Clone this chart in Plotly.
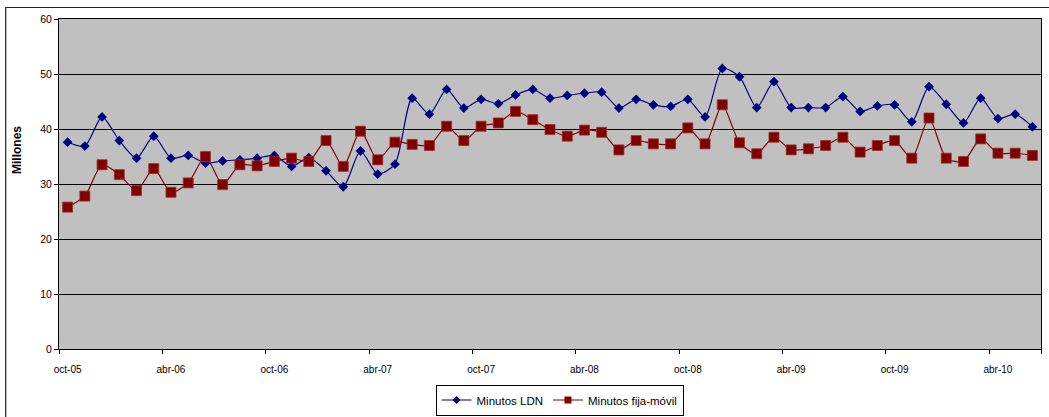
import plotly.graph_objects as go

months = ["oct-05","nov-05","dic-05","ene-06","feb-06","mar-06","abr-06","may-06","jun-06","jul-06","ago-06","sep-06",
          "oct-06","nov-06","dic-06","ene-07","feb-07","mar-07","abr-07","may-07","jun-07","jul-07","ago-07","sep-07",
          "oct-07","nov-07","dic-07","ene-08","feb-08","mar-08","abr-08","may-08","jun-08","jul-08","ago-08","sep-08",
          "oct-08","nov-08","dic-08","ene-09","feb-09","mar-09","abr-09","may-09","jun-09","jul-09","ago-09","sep-09",
          "oct-09","nov-09","dic-09","ene-10","feb-10","mar-10","abr-10","may-10","jun-10"]

ldn = [37.6, 36.9, 42.2, 37.9, 34.7, 38.7, 34.7, 35.2, 33.8, 34.2, 34.4, 34.7,
       35.2, 33.2, 34.8, 32.4, 29.5, 36.0, 31.8, 33.6, 45.6, 42.7, 47.2, 43.8,
       45.4, 44.6, 46.2, 47.2, 45.6, 46.1, 46.5, 46.7, 43.8, 45.4, 44.4, 44.1,
       45.4, 42.2, 51.0, 49.5, 43.9, 48.6, 43.9, 43.9, 43.9, 45.9, 43.2, 44.2,
       44.4, 41.3, 47.7, 44.5, 41.1, 45.6, 41.9, 42.7, 40.4]

fija_movil = [25.8, 27.8, 33.5, 31.7, 28.8, 32.8, 28.5, 30.2, 35.0, 29.9, 33.5, 33.3,
              34.1, 34.7, 34.1, 37.9, 33.2, 39.6, 34.4, 37.6, 37.2, 37.0, 40.5, 37.9,
              40.5, 41.1, 43.2, 41.7, 39.9, 38.7, 39.8, 39.4, 36.2, 37.9, 37.3, 37.3,
              40.2, 37.3, 44.4, 37.5, 35.5, 38.5, 36.2, 36.4, 37.0, 38.5, 35.8, 37.0,
              37.9, 34.7, 42.0, 34.7, 34.1, 38.2, 35.6, 35.6, 35.2]

y_ticks = [0, 10, 20, 30, 40, 50, 60]
label_step = 6

idx = list(range(len(months)))
label_pos = idx[::label_step]
label_txt = months[::label_step]
boundary_pos = [p - 0.5 for p in label_pos] + [len(months) - 0.5]

BLUE = "#000080"
RED = "#800000"
FONT = "Liberation Sans, Arial, sans-serif"

fig = go.Figure()
fig.add_trace(go.Scatter(
    x=idx, y=ldn, mode="lines+markers", name="Minutos LDN", showlegend=False,
    line=dict(color=BLUE, width=1.2, shape="spline", smoothing=0.7),
    marker=dict(symbol="diamond", size=7.5, color=BLUE)))
fig.add_trace(go.Scatter(
    x=idx, y=fija_movil, mode="lines+markers", name="Minutos fija-móvil", showlegend=False,
    line=dict(color=RED, width=1.2, shape="spline", smoothing=0.7),
    marker=dict(symbol="square", size=10, color=RED, line=dict(color="#9a3030", width=0.8))))
# legend entries
fig.add_trace(go.Scatter(
    x=[None], y=[None], mode="lines+markers", name="Minutos LDN",
    line=dict(color=BLUE, width=1.2), marker=dict(symbol="diamond", size=6, color=BLUE)))
fig.add_trace(go.Scatter(
    x=[None], y=[None], mode="lines+markers", name="Minutos fija-móvil",
    line=dict(color=RED, width=1.2), marker=dict(symbol="square", size=7, color=RED)))

fig.update_layout(
    width=1049, height=417,
    margin=dict(l=59, r=8, t=19, b=68),
    paper_bgcolor="white", plot_bgcolor="#C0C0C0",
    font=dict(family=FONT, size=10, color="black"),
    showlegend=True,
    legend=dict(orientation="h", x=0.5097, y=(417 - 400) / 417, xanchor="center", yanchor="middle",
                xref="paper", yref="container",
                bgcolor="white", bordercolor="black", borderwidth=1,
                font=dict(family=FONT, size=11.5, color="black"),
                itemwidth=30, tracegroupgap=0),
    xaxis=dict(
        range=[-0.5, len(months) - 0.5], tickmode="array", tickvals=label_pos, ticktext=label_txt,
        ticks="", showgrid=False, zeroline=False, showline=True, linecolor="black", linewidth=1,
        mirror=True, ticklabelstandoff=11, tickfont=dict(size=10),
        minor=dict(tickmode="array", tickvals=boundary_pos, ticks="outside", ticklen=4,
                   tickcolor="black", tickwidth=1, showgrid=False)),
    yaxis=dict(
        range=[0, 60], tickmode="array", tickvals=y_ticks, ticks="outside", ticklen=4,
        tickcolor="black", showgrid=True, gridcolor="black", gridwidth=1, zeroline=False,
        showline=True, linecolor="black", linewidth=1, mirror=True, tickfont=dict(size=10.5)),
    annotations=[dict(text="<b>Millones</b>", xref="paper", yref="paper",
                      x=(17 - 59) / 982, y=(349 - 150) / 330, textangle=-90,
                      showarrow=False, font=dict(family=FONT, size=12, color="black"),
                      xanchor="center", yanchor="middle")],
    shapes=[dict(type="rect", xref="paper", yref="paper",
                 x0=(5.7 - 59) / 982, x1=(1090 - 59) / 982,
                 y0=(349 - 440) / 330, y1=(349 - 7.5) / 330,
                 line=dict(color="#202020", width=1.2), fillcolor="rgba(0,0,0,0)", layer="below")],
)

fig.write_html("out.html", config={"displayModeBar": False},
               post_script="document.body.style.margin='0';")
